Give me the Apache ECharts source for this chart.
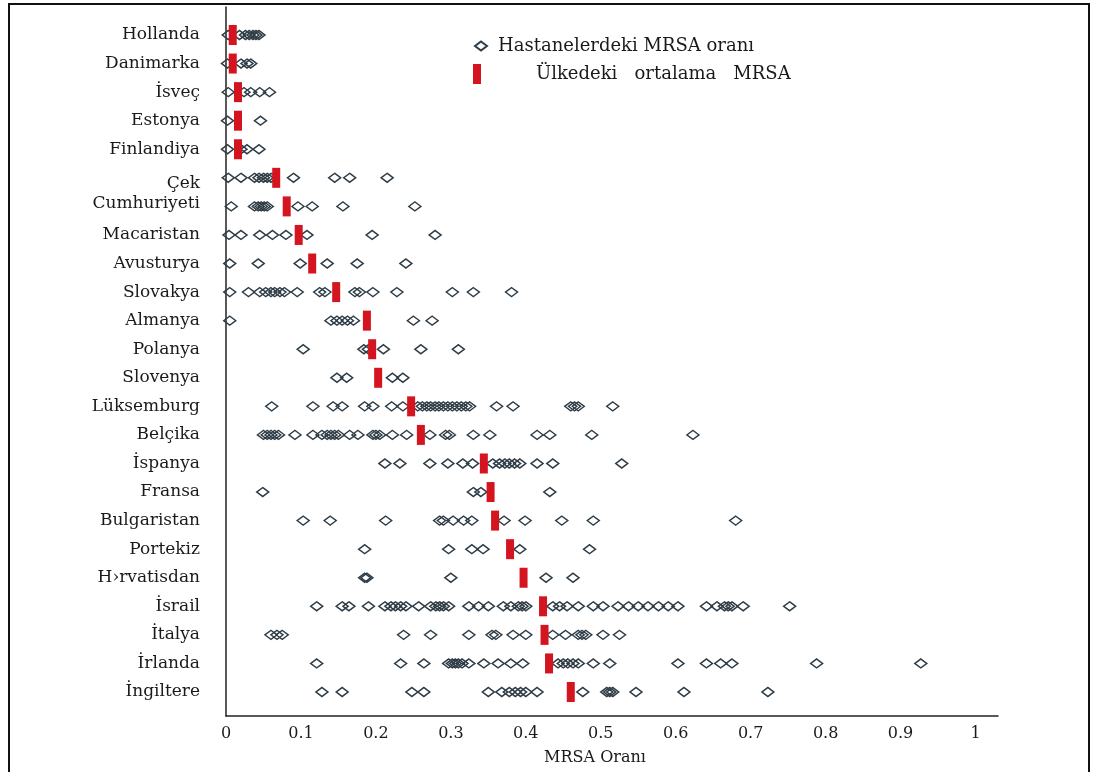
<!DOCTYPE html>
<html>
<head>
<meta charset="utf-8">
<title>MRSA Oranı</title>
<script src="https://cdn.jsdelivr.net/npm/echarts@6.0.0/dist/echarts.min.js"></script>
<style>
    html, body { margin: 0; padding: 0; background: #fff; }
    #chart { width: 1094px; height: 772px; }
</style>
</head>
<body>
<div id="chart"></div>
<script>
// ülkeler, yukaridan asagiya
const countries = [
    'Hollanda', 'Danimarka', 'İsveç', 'Estonya', 'Finlandiya', 'Çek', 'Cumhuriyeti',
    'Macaristan', 'Avusturya', 'Slovakya', 'Almanya', 'Polanya', 'Slovenya', 'Lüksemburg',
    'Belçika', 'İspanya', 'Fransa', 'Bulgaristan', 'Portekiz', 'H›rvatisdan', 'İsrail',
    'İtalya', 'İrlanda', 'İngiltere'
];

// hastanelerdeki MRSA oranlari (ulke sirasiyla)
const hospitalRates = [
    [0.003, 0.018, 0.026, 0.031, 0.036, 0.04, 0.044],
    [0.002, 0.02, 0.028, 0.033],
    [0.003, 0.024, 0.033, 0.045, 0.058],
    [0.002, 0.046],
    [0.002, 0.02, 0.028, 0.044],
    [0.003, 0.02, 0.038, 0.044, 0.05, 0.055, 0.06, 0.09, 0.145, 0.165, 0.215],
    [0.007, 0.038, 0.043, 0.047, 0.051, 0.055, 0.096, 0.115, 0.156, 0.252],
    [0.004, 0.02, 0.045, 0.062, 0.08, 0.108, 0.195, 0.279],
    [0.005, 0.043, 0.099, 0.135, 0.175, 0.24],
    [0.005, 0.03, 0.045, 0.053, 0.06, 0.065, 0.072, 0.078, 0.095, 0.125, 0.132, 0.172, 0.178, 0.196, 0.228, 0.302, 0.33, 0.381],
    [0.005, 0.14, 0.148, 0.155, 0.162, 0.17, 0.25, 0.275],
    [0.103, 0.184, 0.19, 0.21, 0.26, 0.31],
    [0.148, 0.161, 0.222, 0.236],
    [0.061, 0.116, 0.143, 0.155, 0.185, 0.196, 0.221, 0.236, 0.256, 0.262, 0.268, 0.273, 0.279, 0.284, 0.29, 0.296, 0.302, 0.308, 0.314, 0.32, 0.325, 0.361, 0.383, 0.46, 0.465, 0.47, 0.516],
    [0.05, 0.055, 0.06, 0.065, 0.07, 0.092, 0.116, 0.128, 0.135, 0.14, 0.145, 0.15, 0.165, 0.176, 0.196, 0.2, 0.205, 0.222, 0.241, 0.272, 0.293, 0.298, 0.33, 0.352, 0.415, 0.432, 0.488, 0.623],
    [0.212, 0.232, 0.272, 0.296, 0.316, 0.329, 0.356, 0.365, 0.372, 0.378, 0.385, 0.392, 0.415, 0.436, 0.528],
    [0.049, 0.33, 0.34, 0.432],
    [0.103, 0.139, 0.213, 0.285, 0.29, 0.303, 0.317, 0.328, 0.371, 0.399, 0.448, 0.49, 0.68],
    [0.185, 0.297, 0.328, 0.343, 0.392, 0.485],
    [0.185, 0.188, 0.3, 0.427, 0.463],
    [0.121, 0.155, 0.164, 0.19, 0.212, 0.22, 0.226, 0.233, 0.24, 0.257, 0.273, 0.28, 0.285, 0.29, 0.297, 0.324, 0.337, 0.35, 0.37, 0.38, 0.39, 0.395, 0.4, 0.436, 0.445, 0.455, 0.47, 0.49, 0.503, 0.523, 0.537, 0.55, 0.563, 0.577, 0.59, 0.603, 0.641, 0.655, 0.665, 0.67, 0.675, 0.69, 0.752],
    [0.06, 0.068, 0.075, 0.237, 0.273, 0.324, 0.355, 0.36, 0.383, 0.4, 0.436, 0.453, 0.47, 0.475, 0.48, 0.503, 0.525],
    [0.121, 0.233, 0.264, 0.297, 0.302, 0.306, 0.31, 0.315, 0.324, 0.344, 0.363, 0.38, 0.396, 0.443, 0.45, 0.456, 0.463, 0.47, 0.49, 0.512, 0.603, 0.641, 0.66, 0.675, 0.788, 0.927],
    [0.128, 0.155, 0.248, 0.264, 0.35, 0.368, 0.378, 0.386, 0.393, 0.4, 0.415, 0.476, 0.508, 0.512, 0.516, 0.547, 0.611, 0.723]
];

// ulkedeki ortalama MRSA
const countryMeans = [
    0.009, 0.009, 0.016, 0.016, 0.016, 0.067, 0.081, 0.097, 0.115, 0.147, 0.188, 0.195,
    0.203, 0.247, 0.26, 0.344, 0.353, 0.359, 0.379, 0.397, 0.423, 0.425, 0.431, 0.46
];

const xTicks = [0, 0.1, 0.2, 0.3, 0.4, 0.5, 0.6, 0.7, 0.8, 0.9, 1];

const hospitalName = 'Hastanelerdeki MRSA oranı';
const meanName = 'Ülkedeki   ortalama   MRSA';
const serif = 'DejaVu Serif';

let hospitalData = [];
hospitalRates.forEach((rates, i) => {
    rates.forEach((v) => hospitalData.push([v, i]));
});
let meanData = countryMeans.map((v, i) => [v, i]);
let rowIndex = countries.map((c, i) => i);

// "Çek Cumhuriyeti" iki satira bolunmus, biraz birbirine yaklastir
function rowLabel(v) {
    let name = countries[Math.round(v)];
    if (name === 'Çek') return '{down|' + name + '}';
    if (name === 'Cumhuriyeti') return '{up|' + name + '}';
    return name;
}

let myChart = echarts.init(document.getElementById('chart'));
let option = {
    animation: false,
    backgroundColor: '#fff',
    textStyle: { fontFamily: serif, color: '#1a1a1a' },
    graphic: [
        {
            type: 'rect',
            silent: true,
            shape: { x: 9, y: 4, width: 1080, height: 800 },
            style: { fill: 'none', stroke: '#111', lineWidth: 2 }
        }
    ],
    grid: {
        left: 226,
        right: 96,
        top: 7,
        bottom: 56
    },
    legend: [
        {
            left: 469,
            top: 32,
            itemWidth: 12,
            itemHeight: 9,
            data: [hospitalName],
            formatter: (name) => '{t|' + name + '}',
            textStyle: {
                rich: { t: { fontFamily: serif, fontSize: 18, color: '#1a1a1a', padding: [0, 0, 0, 6] } }
            }
        },
        {
            left: 468,
            top: 59,
            itemWidth: 8,
            itemHeight: 20,
            data: [meanName],
            formatter: (name) => '{t|' + name + '}',
            textStyle: {
                rich: { t: { fontFamily: serif, fontSize: 18, color: '#1a1a1a', padding: [0, 0, 0, 50] } }
            }
        }
    ],
    xAxis: {
        type: 'value',
        min: 0,
        max: 1.03,
        name: 'MRSA Oranı',
        nameLocation: 'middle',
        nameGap: 34,
        nameTextStyle: { fontFamily: serif, fontSize: 16, color: '#1a1a1a', padding: [0, 34, 0, 0] },
        axisLine: { show: true, onZero: false, lineStyle: { color: '#222', width: 1.5 } },
        axisTick: { show: false },
        splitLine: { show: false },
        axisLabel: {
            customValues: xTicks,
            margin: 10,
            fontFamily: serif,
            fontSize: 16,
            color: '#1a1a1a'
        }
    },
    yAxis: {
        type: 'value',
        inverse: true,
        min: -0.98,
        max: 23.84,
        axisLine: { show: true, onZero: false, lineStyle: { color: '#222', width: 1.5 } },
        axisTick: { show: false },
        splitLine: { show: false },
        axisLabel: {
            customValues: rowIndex,
            margin: 26,
            fontFamily: serif,
            fontSize: 17,
            color: '#1a1a1a',
            formatter: rowLabel,
            rich: {
                down: { fontFamily: serif, fontSize: 17, color: '#1a1a1a', padding: [12, 0, 0, 0] },
                up: { fontFamily: serif, fontSize: 17, color: '#1a1a1a', padding: [0, 0, 6, 0] }
            }
        }
    },
    series: [
        {
            name: hospitalName,
            type: 'scatter',
            symbol: 'diamond',
            symbolSize: [12, 9],
            itemStyle: {
                color: 'rgba(255,255,255,0)',
                borderColor: '#2e3c46',
                borderWidth: 1.5,
                opacity: 1
            },
            data: hospitalData
        },
        {
            name: meanName,
            type: 'scatter',
            symbol: 'rect',
            symbolSize: [8, 20],
            z: 5,
            itemStyle: { color: '#d4141f', opacity: 1 },
            data: meanData
        }
    ]
};
myChart.setOption(option);
</script>
</body>
</html>
